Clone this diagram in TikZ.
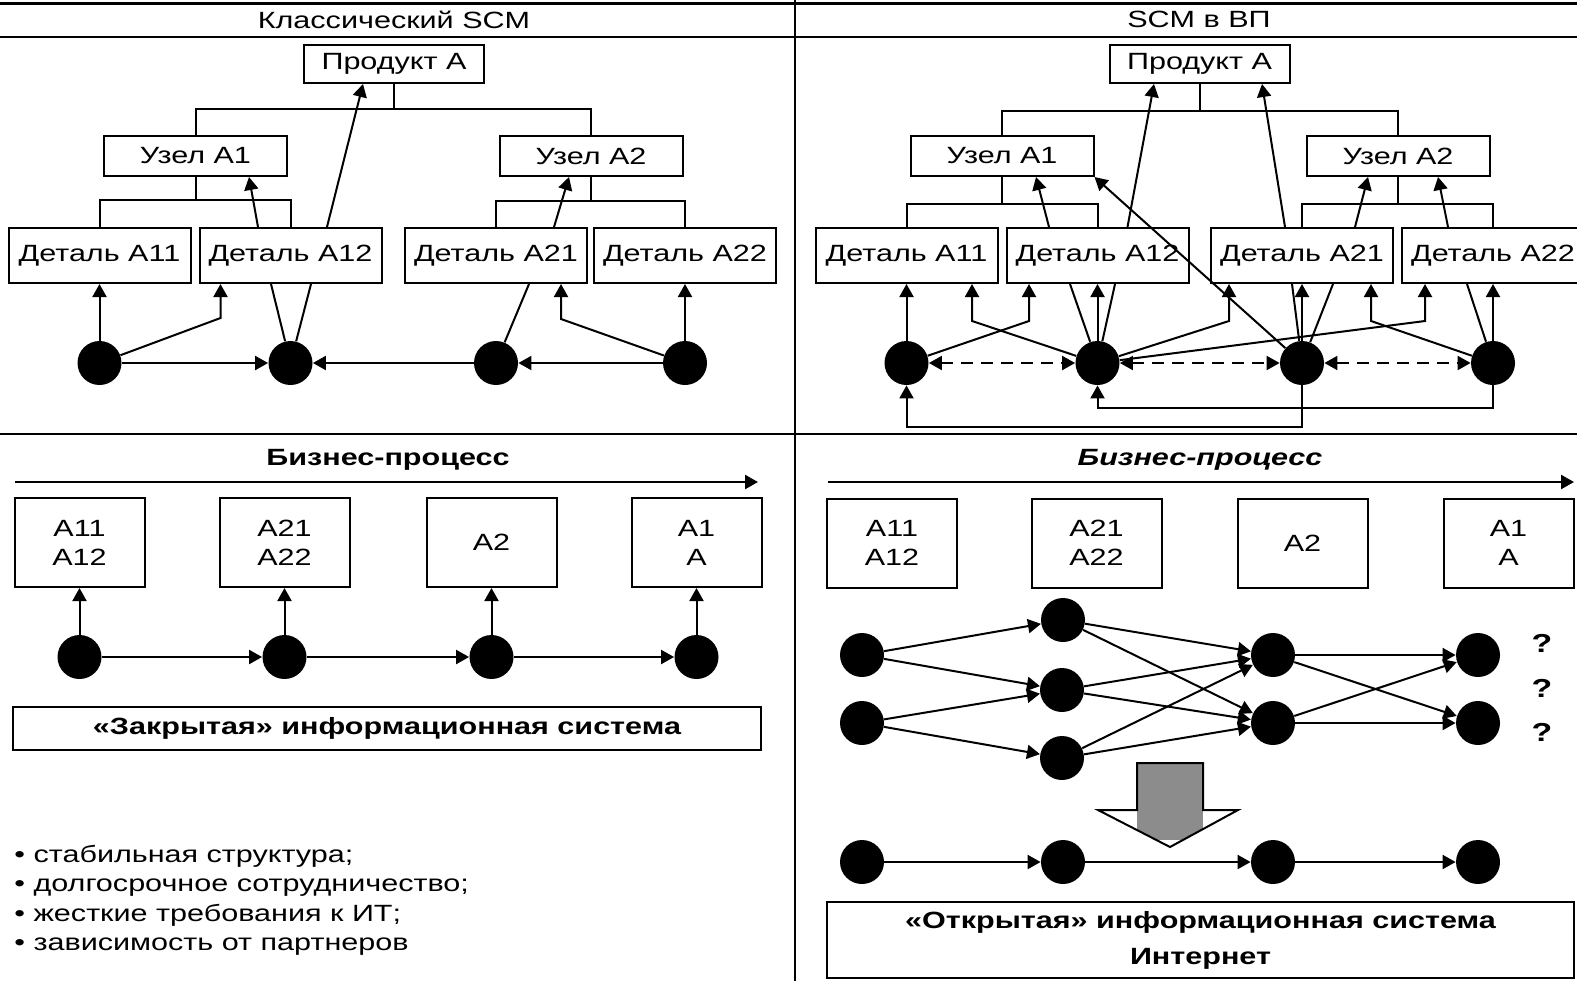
\documentclass[tikz,border=0pt]{standalone}
\usepackage{fontspec}
\setmainfont{Liberation Sans}[FakeStretch=1.3]
\usetikzlibrary{arrows.meta,calc}

\begin{document}
\begin{tikzpicture}[x=0.5pt,y=-0.5pt,
  every node/.style={font=\fontsize{11.75pt}{14.6pt}\selectfont, inner sep=0pt},
  part/.style={draw, line width=1pt, minimum width=91pt, minimum height=27.5pt},
  unit/.style={draw, line width=1pt, minimum width=91.5pt, minimum height=20pt},
  prod/.style={draw, line width=1pt, minimum width=90pt, minimum height=19pt},
  stage/.style={draw, line width=1pt, minimum width=65pt, minimum height=44.5pt, align=center},
  dot/.style={circle, fill=black, minimum size=22pt},
  link/.style={line width=1pt},
  tip/.style={},
  arr/.style={line width=1pt, -{Triangle[length=6.5pt,width=7pt]}},
  darr/.style={line width=1pt, dash pattern=on 6pt off 4pt,
    {Triangle[length=6.5pt,width=7pt]}-{Triangle[length=6.5pt,width=7pt]}},
  rule/.style={line width=1.2pt},
  infobox/.style={draw, line width=1pt, align=center,
    font=\bfseries\fontsize{11.75pt}{18pt}\selectfont},
  heading/.style={font=\bfseries\fontsize{11.75pt}{14pt}\selectfont},
]
\useasboundingbox (0,0) rectangle (1577,981);

% frame rules
\draw[line width=1.5pt] (0,3) -- (1577,3);
\draw[rule] (0,37) -- (1577,37);
\draw[rule] (0,434) -- (1577,434);
\draw[rule] (795,0) -- (795,981);

\node (ttlL) at (394,20) {Классический SCM};
\node (ttlR) at (1199,19) {SCM в ВП};

% ---------- classic SCM: product tree ----------
\node[prod] (lP) at (394,64) {Продукт А};
\node[unit] (lU1) at (195.5,156) {Узел A1};
\node[unit] (lU2) at (591,156) {Узел A2};
\node[part] (lD11) at (99.5,255.5) {Деталь A11};
\node[part] (lD12) at (290.5,255.5) {Деталь A12};
\node[part] (lD21) at (496,255.5) {Деталь A21};
\node[part] (lD22) at (685,255.5) {Деталь A22};

\coordinate (lbP) at ($(lP.south)+(0,25)$);
\draw[link] (lP.south) -- (lbP);
\draw[link] (lU1.north) |- (lbP) -| (lU2.north);
\coordinate (lb1) at ($(lU1.south)+(0,23)$);
\draw[link] (lU1.south) -- (lb1);
\draw[link] (lD11.north) |- (lb1) -| (lD12.north);
\coordinate (lb2) at ($(lU2.south)+(0,24)$);
\draw[link] (lU2.south) -- (lb2);
\draw[link] (lD21.north) |- (lb2) -| (lD22.north);

\node[dot] (lc1) at (99.5,363) {};
\node[dot] (lc2) at (290.5,363) {};
\node[dot] (lc3) at (496,363) {};
\node[dot] (lc4) at (685,363) {};

\draw[arr] (lc1) -- (lc1 |- lD11.south);
\draw[arr] (lc1) -- ($(lD12.south west)+(22,34)$) -- ($(lD12.south west)+(22,0)$);
\draw[link] ($(lD12.south)+(-19.5,0)$) -- (lc2);
\draw[link] ($(lD12.south)+(20.5,0)$) -- (lc2);
\draw[arr] ($(lD12.north)+(-32.5,0)$) -- ($(lU1.south)+(53.5,0)$);
\draw[arr] ($(lD12.north)+(36.5,0)$) -- ($(lP.south)+(-31,0)$);
\draw[arr] ($(lD21.north)+(58,0)$) -- ($(lU2.south)+(-22,0)$);
\draw[link] ($(lD21.south)+(33,0)$) -- (lc3);
\draw[arr] (lc4) -- ($(lD21.south west)+(157,35)$) -- ($(lD21.south west)+(157,0)$);
\draw[arr] (lc4) -- (lc4 |- lD22.south);
\draw[arr] (lc1) -- (lc2);
\draw[arr] (lc3) -- (lc2);
\draw[arr] (lc4) -- (lc3);

% ---------- SCM in a virtual enterprise ----------
\node[prod] (rP) at (1199.5,64) {Продукт А};
\node[unit] (rU1) at (1002,156) {Узел A1};
\node[unit] (rU2) at (1398,156) {Узел A2};
\node[part] (rD11) at (906.5,255.5) {Деталь A11};
\node[part] (rD12) at (1097.5,255.5) {Деталь A12};
\node[part] (rD21) at (1302,255.5) {Деталь A21};
\node[part] (rD22) at (1493,255.5) {Деталь A22};

\coordinate (rbP) at ($(rP.south)+(0,27)$);
\draw[link] (rP.south) -- (rbP);
\draw[link] (rU1.north) |- (rbP) -| (rU2.north);
\coordinate (rb1) at ($(rU1.south)+(0,27)$);
\draw[link] (rU1.south) -- (rb1);
\draw[link] (rD11.north) |- (rb1) -| (rD12.north);
\coordinate (rb2) at ($(rU2.south)+(0,27)$);
\draw[link] (rU2.south) -- (rb2);
\draw[link] (rD21.north) |- (rb2) -| (rD22.north);

\node[dot] (rc1) at (906.5,363) {};
\node[dot] (rc2) at (1097.5,363) {};
\node[dot] (rc3) at (1302,363) {};
\node[dot] (rc4) at (1493,363) {};

\draw[arr] ($(rD12.north)+(30,0)$) -- ($(rP.south)+(-45.5,0)$);
\draw[arr] ($(rD21.north)+(-17,0)$) -- ($(rP.south)+(62.5,0)$);
\draw[arr] ($(rD12.north)+(-48.5,0)$) -- ($(rU1.south)+(34,0)$);
\draw[arr] (rc3) -- (rU1.south east);
\draw[arr] ($(rD21.north)+(53,0)$) -- ($(rU2.south)+(-30,0)$);
\draw[arr] ($(rD22.north)+(-45,0)$) -- ($(rU2.south)+(40,0)$);

\draw[arr] (rc1) -- (rc1 |- rD11.south);
\draw[arr] (rc1) -- ($(rD12.south west)+(23.5,37)$) -- ($(rD12.south west)+(23.5,0)$);
\draw[arr] (rc2) -- ($(rD11.south west)+(157.5,37)$) -- ($(rD11.south west)+(157.5,0)$);
\draw[link] ($(rD12.south)+(-27.5,0)$) -- (rc2);
\draw[link] ($(rD12.south)+(17.5,0)$) -- (rc2);
\draw[arr] (rc2) -- (rc2 |- rD12.south);
\draw[arr] (rc2) -- ($(rD21.south west)+(19,37)$) -- ($(rD21.south west)+(19,0)$);
\draw[arr] (rc2) -- ($(rD22.south west)+(24,37)$) -- ($(rD22.south west)+(24,0)$);
\draw[link] ($(rD21.south)+(-10,0)$) -- (rc3);
\draw[link] ($(rD21.south)+(31,0)$) -- (rc3);
\draw[arr] (rc3) -- (rc3 |- rD21.south);
\draw[arr] (rc4) -- ($(rD21.south west)+(161,37)$) -- ($(rD21.south west)+(161,0)$);
\draw[link] ($(rD22.south)+(-26,0)$) -- (rc4);
\draw[arr] (rc4) -- (rc4 |- rD22.south);

\draw[darr] (rc1) -- (rc2);
\draw[darr] (rc2) -- (rc3);
\draw[darr] (rc3) -- (rc4);
\draw[arr] (rc3.south) |- ($(rc1.south)+(0,42)$) -- (rc1.south);
\draw[arr] (rc4.south) |- ($(rc2.south)+(0,23)$) -- (rc2.south);

% ---------- closed business process ----------
\node[heading] (bpL) at (388,460) {Бизнес-процесс};
\coordinate (flowL0) at (15,482);
\coordinate (flowL1) at (758,482);
\draw[arr, line width=1.2pt] (flowL0) -- (flowL1);

\node[stage] (lS1) at (79.5,542.5) {A11\\A12};
\node[stage] (lS2) at (284.5,542.5) {A21\\A22};
\node[stage] (lS3) at (491.5,542.5) {A2};
\node[stage] (lS4) at (696.5,542.5) {A1\\A};

\node[dot] (lk1) at (79.5,657) {};
\node[dot] (lk2) at (284.5,657) {};
\node[dot] (lk3) at (491.5,657) {};
\node[dot] (lk4) at (696.5,657) {};
\foreach \i in {1,...,4} \draw[arr] (lk\i) -- (lS\i);
\draw[arr] (lk1) -- (lk2);
\draw[arr] (lk2) -- (lk3);
\draw[arr] (lk3) -- (lk4);

\node[infobox, minimum width=374pt, minimum height=21.5pt] (closedIS) at (387,728.5)
  {«Закрытая» информационная система};

\node[anchor=base west] (pro1) at (14,862) {• стабильная структура;};
\node[anchor=base west] (pro2) at (14,891.5) {• долгосрочное сотрудничество;};
\node[anchor=base west] (pro3) at (14,921) {• жесткие требования к ИТ;};
\node[anchor=base west] (pro4) at (14,950.5) {• зависимость от партнеров};

% ---------- open business process ----------
\node[heading, font=\bfseries\itshape\fontsize{11.75pt}{14pt}\selectfont] (bpR) at (1200,460) {Бизнес-процесс};
\coordinate (flowR0) at (828,482);
\coordinate (flowR1) at (1574,482);
\draw[arr, line width=1.2pt] (flowR0) -- (flowR1);

\node[stage] (rS1) at (892,543) {A11\\A12};
\node[stage] (rS2) at (1096.5,543) {A21\\A22};
\node[stage] (rS3) at (1302.5,543) {A2};
\node[stage] (rS4) at (1508.5,543) {A1\\A};

\node[dot] (nL1) at (862,655) {};
\node[dot] (nL2) at (862,723) {};
\node[dot] (nM1) at (1063,620) {};
\node[dot] (nM2) at (1062,690) {};
\node[dot] (nM3) at (1062,758) {};
\node[dot] (nR1) at (1273,655) {};
\node[dot] (nR2) at (1273,723) {};
\node[dot] (nE1) at (1478,655) {};
\node[dot] (nE2) at (1478,723) {};

\draw[arr] (nL1) -- (nM1);
\draw[arr] (nL1) -- (nM2);
\draw[arr] (nL2) -- (nM2);
\draw[arr] (nL2) -- (nM3);
\foreach \m in {1,2,3} {
  \draw[arr] (nM\m) -- (nR1);
  \draw[arr] (nM\m) -- (nR2);
}
\draw[arr] (nR1) -- (nE1);
\draw[arr] (nR1) -- (nE2);
\draw[arr] (nR2) -- (nE1);
\draw[arr] (nR2) -- (nE2);

\node[font=\bfseries\fontsize{13pt}{14pt}\selectfont] (q1) at (1542,643) {?};
\node[font=\bfseries\fontsize{13pt}{14pt}\selectfont] (q2) at (1542,688) {?};
\node[font=\bfseries\fontsize{13pt}{14pt}\selectfont] (q3) at (1542,732) {?};

% transition arrow
\begin{scope}
  \path[clip] (1137,763) -- (1203,763) -- (1203,810) -- (1238,810) -- (1170,847)
    -- (1098,810) -- (1137,810) -- cycle;
  \fill[white] (1090,760) rectangle (1245,850);
  \fill[black!45] (1137,763) rectangle (1203,840);
\end{scope}
\draw[line width=1pt, line join=miter] (1137,763) -- (1203,763) -- (1203,810) -- (1238,810)
  -- (1170,847) -- (1098,810) -- (1137,810) -- cycle;

\node[dot] (sq1) at (862,862) {};
\node[dot] (sq2) at (1063,862) {};
\node[dot] (sq3) at (1273,862) {};
\node[dot] (sq4) at (1478,862) {};
\draw[arr] (sq1) -- (sq2);
\draw[arr] (sq2) -- (sq3);
\draw[arr] (sq3) -- (sq4);

\node[infobox, minimum width=373.5pt, minimum height=38pt] (openIS) at (1200.5,940)
  {«Открытая» информационная система\\Интернет};
\end{tikzpicture}
\end{document}
